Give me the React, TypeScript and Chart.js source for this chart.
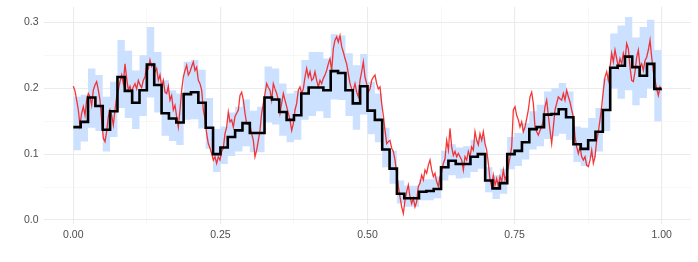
import React, { useEffect, useRef } from 'react';
import { Chart, registerables } from 'chart.js';

Chart.register(...registerables);

// ---- data ----
const BIN_WIDTH = 0.0125; // 80 bins over [0, 1]

const STEP_MEAN = [
  0.141, 0.149, 0.186, 0.173, 0.137, 0.165, 0.217, 0.196, 0.178, 0.197,
  0.236, 0.205, 0.162, 0.154, 0.148, 0.191, 0.194, 0.178, 0.140, 0.100,
  0.110, 0.126, 0.136, 0.147, 0.132, 0.132, 0.186, 0.183, 0.164, 0.152,
  0.159, 0.192, 0.201, 0.201, 0.197, 0.226, 0.223, 0.197, 0.177, 0.203,
  0.166, 0.152, 0.107, 0.078, 0.040, 0.033, 0.033, 0.043, 0.044, 0.047,
  0.080, 0.090, 0.085, 0.085, 0.096, 0.100, 0.060, 0.048, 0.056, 0.100,
  0.105, 0.118, 0.138, 0.141, 0.160, 0.161, 0.168, 0.156, 0.115, 0.108,
  0.121, 0.134, 0.167, 0.231, 0.234, 0.248, 0.232, 0.219, 0.237, 0.199,
];

const BAND_LOW = [
  0.106, 0.119, 0.140, 0.135, 0.104, 0.126, 0.170, 0.155, 0.138, 0.158,
  0.186, 0.163, 0.128, 0.120, 0.114, 0.152, 0.153, 0.139, 0.108, 0.073,
  0.085, 0.097, 0.104, 0.112, 0.103, 0.103, 0.148, 0.145, 0.128, 0.118,
  0.122, 0.152, 0.158, 0.165, 0.155, 0.183, 0.182, 0.158, 0.137, 0.160,
  0.130, 0.118, 0.080, 0.055, 0.025, 0.020, 0.020, 0.030, 0.030, 0.033,
  0.060, 0.068, 0.063, 0.064, 0.073, 0.078, 0.042, 0.032, 0.040, 0.077,
  0.082, 0.092, 0.107, 0.112, 0.123, 0.127, 0.131, 0.122, 0.088, 0.082,
  0.095, 0.104, 0.135, 0.200, 0.184, 0.197, 0.174, 0.185, 0.200, 0.150,
];

const BAND_HIGH = [
  0.187, 0.190, 0.230, 0.220, 0.187, 0.210, 0.273, 0.257, 0.227, 0.250,
  0.293, 0.255, 0.212, 0.197, 0.192, 0.240, 0.243, 0.228, 0.185, 0.138,
  0.142, 0.163, 0.172, 0.183, 0.166, 0.172, 0.233, 0.230, 0.207, 0.192,
  0.196, 0.243, 0.255, 0.255, 0.245, 0.282, 0.280, 0.253, 0.235, 0.252,
  0.210, 0.192, 0.140, 0.105, 0.060, 0.052, 0.052, 0.062, 0.062, 0.066,
  0.105, 0.115, 0.110, 0.112, 0.122, 0.126, 0.080, 0.068, 0.078, 0.126,
  0.132, 0.147, 0.165, 0.175, 0.195, 0.200, 0.208, 0.195, 0.142, 0.140,
  0.155, 0.170, 0.215, 0.283, 0.295, 0.308, 0.277, 0.293, 0.304, 0.258,
];

const RAW_STEP = 1 / 353; // spacing of the noisy series
const RAW_VALUES = [
  0.203, 0.196, 0.182, 0.167, 0.144, 0.162, 0.172, 0.159, 0.182, 0.192,
  0.187, 0.174, 0.197, 0.205, 0.210, 0.197, 0.182, 0.152, 0.124, 0.119,
  0.134, 0.157, 0.167, 0.159, 0.144, 0.167, 0.187, 0.197, 0.210, 0.220,
  0.207, 0.237, 0.215, 0.197, 0.203, 0.194, 0.202, 0.207, 0.199, 0.212,
  0.205, 0.201, 0.212, 0.217, 0.235, 0.230, 0.243, 0.233, 0.237, 0.225,
  0.230, 0.212, 0.220, 0.202, 0.212, 0.194, 0.192, 0.203, 0.182, 0.189,
  0.167, 0.174, 0.157, 0.141, 0.167, 0.197, 0.217, 0.227, 0.235, 0.220,
  0.225, 0.233, 0.240, 0.227, 0.232, 0.212, 0.207, 0.197, 0.167, 0.154,
  0.131, 0.116, 0.109, 0.101, 0.091, 0.096, 0.086, 0.096, 0.091, 0.104,
  0.109, 0.131, 0.141, 0.164, 0.149, 0.152, 0.141, 0.157, 0.162, 0.167,
  0.189, 0.194, 0.182, 0.162, 0.146, 0.145, 0.144, 0.131, 0.121, 0.096,
  0.106, 0.121, 0.136, 0.162, 0.177, 0.192, 0.207, 0.201, 0.197, 0.182,
  0.207, 0.199, 0.192, 0.182, 0.162, 0.177, 0.192, 0.182, 0.172, 0.162,
  0.152, 0.136, 0.146, 0.167, 0.177, 0.197, 0.202, 0.192, 0.199, 0.217,
  0.230, 0.217, 0.225, 0.212, 0.215, 0.225, 0.212, 0.202, 0.212, 0.207,
  0.215, 0.220, 0.227, 0.237, 0.245, 0.227, 0.260, 0.273, 0.278, 0.270,
  0.280, 0.263, 0.255, 0.245, 0.237, 0.222, 0.207, 0.199, 0.197, 0.207,
  0.194, 0.187, 0.212, 0.225, 0.240, 0.217, 0.207, 0.194, 0.199, 0.212,
  0.217, 0.220, 0.207, 0.199, 0.202, 0.177, 0.159, 0.136, 0.116, 0.119,
  0.121, 0.109, 0.104, 0.091, 0.071, 0.051, 0.035, 0.020, 0.010, 0.030,
  0.043, 0.053, 0.035, 0.025, 0.033, 0.020, 0.028, 0.051, 0.056, 0.068,
  0.061, 0.076, 0.071, 0.083, 0.091, 0.076, 0.066, 0.071, 0.058, 0.051,
  0.066, 0.073, 0.086, 0.093, 0.121, 0.106, 0.139, 0.111, 0.098, 0.104,
  0.096, 0.101,
  0.096, 0.091, 0.076, 0.096, 0.091, 0.104, 0.096, 0.111, 0.106, 0.134,
  0.121, 0.114, 0.131, 0.121, 0.134, 0.116, 0.106, 0.086, 0.061, 0.051,
  0.068, 0.053, 0.063, 0.051, 0.066, 0.058, 0.076, 0.061, 0.068, 0.081,
  0.096, 0.111, 0.167, 0.172, 0.159, 0.152, 0.141, 0.149, 0.134, 0.141,
  0.154, 0.167, 0.187, 0.194, 0.177, 0.141, 0.134, 0.129, 0.136, 0.141,
  0.152, 0.172, 0.182, 0.159, 0.136, 0.116, 0.141, 0.167, 0.177, 0.187,
  0.184, 0.182, 0.192, 0.182, 0.197, 0.187, 0.179, 0.167, 0.157, 0.126,
  0.111, 0.101, 0.111, 0.096, 0.091, 0.096, 0.083, 0.081, 0.091, 0.106,
  0.086, 0.096, 0.121, 0.134, 0.152, 0.172, 0.197, 0.217, 0.225, 0.212,
  0.232, 0.253, 0.240, 0.258, 0.245, 0.232, 0.245, 0.237, 0.253, 0.242,
  0.268, 0.260, 0.232, 0.212, 0.210, 0.225, 0.247, 0.258, 0.232, 0.237,
  0.227, 0.242, 0.247, 0.258, 0.273, 0.247, 0.225, 0.212, 0.199, 0.189,
  0.202, 0.197,
];

const X_TICKS = [0, 0.125, 0.25, 0.375, 0.5, 0.625, 0.75, 0.875, 1];
const X_LABELS = ['0.00', '', '0.25', '', '0.50', '', '0.75', '', '1.00'];
const Y_TICKS = [0, 0.05, 0.1, 0.15, 0.2, 0.25, 0.3];
const Y_LABELS = ['0.0', '', '0.1', '', '0.2', '', '0.3'];

const stepPoints = (vals: number[]) =>
  vals
    .map((v, k) => ({ x: k * BIN_WIDTH, y: v }))
    .concat([{ x: vals.length * BIN_WIDTH, y: vals[vals.length - 1] }]);

const rawPoints = RAW_VALUES.map((v, i) => ({ x: i * RAW_STEP, y: v }));

const gridColor = (ctx: any) => (ctx.index % 2 === 0 ? '#ebebeb' : '#f2f2f2');
const gridWidth = (ctx: any) => (ctx.index % 2 === 0 ? 1.1 : 0.6);

const FONT = { family: "'Liberation Sans', Arial, sans-serif", size: 10.5 };

const zeroPadding = (scale: any) => {
  scale.paddingTop = 0;
  scale.paddingBottom = 0;
  scale.paddingLeft = 0;
  scale.paddingRight = 0;
};

export default function App() {
  const ref = useRef<HTMLCanvasElement>(null);
  useEffect(() => {
    document.body.style.margin = '0';
    const chart = new Chart(ref.current as HTMLCanvasElement, {
      type: 'line',
      data: {
        datasets: [
          {
            data: stepPoints(STEP_MEAN),
            stepped: 'before',
            borderColor: '#000000',
            borderWidth: 2.6,
            pointRadius: 0,
            fill: false,
          },
          {
            data: rawPoints,
            borderColor: 'rgba(245, 20, 20, 0.85)',
            borderWidth: 1.3,
            pointRadius: 0,
            tension: 0,
            fill: false,
          },
          {
            data: stepPoints(BAND_LOW),
            stepped: 'before',
            borderColor: 'rgba(0,0,0,0)',
            borderWidth: 0,
            pointRadius: 0,
            fill: false,
          },
          {
            data: stepPoints(BAND_HIGH),
            stepped: 'before',
            borderColor: 'rgba(0,0,0,0)',
            borderWidth: 0,
            pointRadius: 0,
            backgroundColor: 'rgb(204, 224, 255)',
            fill: '-1',
          },
        ] as any,
      },
      options: {
        animation: false,
        responsive: false,
        maintainAspectRatio: false,
        devicePixelRatio: 1,
        layout: { padding: { top: 6.7, right: 6.9, bottom: 0, left: 0 } },
        plugins: { legend: { display: false }, tooltip: { enabled: false } },
        scales: {
          x: {
            type: 'linear',
            min: -0.05,
            max: 1.05,
            afterBuildTicks: (scale: any) => {
              scale.ticks = X_TICKS.map((v) => ({ value: v }));
            },
            afterFit: (scale: any) => {
              scale.height = 38;
              zeroPadding(scale);
            },
            ticks: {
              callback: (_v: any, i: number) => X_LABELS[i],
              color: '#4d4d4d',
              padding: 5,
              maxRotation: 0,
              autoSkip: false,
              font: FONT,
            },
            grid: { color: gridColor, lineWidth: gridWidth, drawTicks: false },
            border: { display: false },
          },
          y: {
            type: 'linear',
            min: -0.006,
            max: 0.3237,
            afterBuildTicks: (scale: any) => {
              scale.ticks = Y_TICKS.map((v) => ({ value: v }));
            },
            afterFit: (scale: any) => {
              scale.width = 43.9;
              zeroPadding(scale);
            },
            ticks: {
              callback: (_v: any, i: number) => Y_LABELS[i],
              color: '#4d4d4d',
              padding: 5.4,
              autoSkip: false,
              font: FONT,
            },
            grid: { color: gridColor, lineWidth: gridWidth, drawTicks: false },
            border: { display: false },
          },
        },
      } as any,
    });
    return () => chart.destroy();
  }, []);
  return (
    <div style={{ width: 698, height: 262 }}>
      <canvas ref={ref} width={698} height={262} style={{ display: 'block' }} />
    </div>
  );
}
